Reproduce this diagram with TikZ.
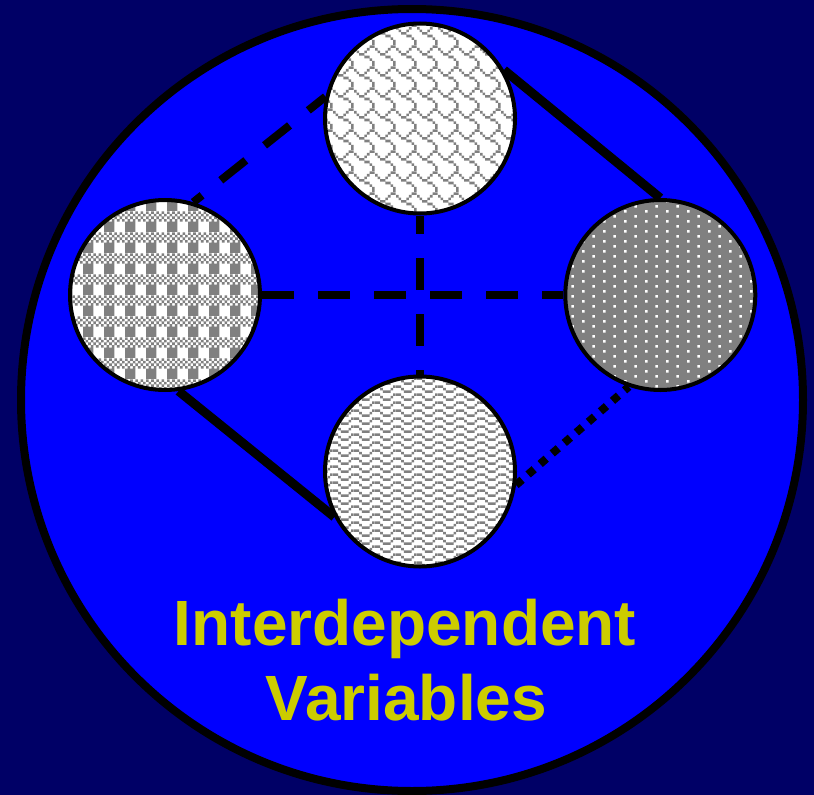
\documentclass[tikz,border=0pt]{standalone}
\usepackage{tikz}
\usepackage{fontspec}
\setmainfont{Liberation Sans}
\usetikzlibrary{patterns}
\definecolor{navy}{HTML}{000066}
\definecolor{discblue}{HTML}{0000FF}
\definecolor{patgray}{HTML}{808080}
\definecolor{titleyellow}{HTML}{CCCC00}
\pgfdeclarelayer{back}
\pgfdeclarelayer{links}
\pgfsetlayers{back,links,main}
\newcommand\bitsq[2]{\pgfpathrectangle{\pgfpoint{#1*2.6pt}{#2*2.6pt}}{\pgfpoint{2.6pt}{2.6pt}}}
% shingle pattern (8x8 bitmap)
\pgfdeclarepatternformonly{shinglepat}{\pgfpointorigin}{\pgfpoint{20.8pt}{20.8pt}}{\pgfpoint{20.8pt}{20.8pt}}{%
  \bitsq{6}{7}\bitsq{7}{7}%
  \bitsq{0}{6}\bitsq{5}{6}%
  \bitsq{1}{5}\bitsq{4}{5}%
  \bitsq{2}{4}\bitsq{3}{4}%
  \bitsq{4}{3}\bitsq{5}{3}%
  \bitsq{6}{2}%
  \bitsq{7}{1}%
  \bitsq{7}{0}%
  \pgfusepath{fill}}
% plaid pattern
\pgfdeclarepatternformonly{plaidpat}{\pgfpointorigin}{\pgfpoint{20.8pt}{20.8pt}}{\pgfpoint{20.8pt}{20.8pt}}{%
  \bitsq{0}{7}\bitsq{2}{7}\bitsq{4}{7}\bitsq{6}{7}%
  \bitsq{1}{6}\bitsq{3}{6}\bitsq{5}{6}\bitsq{7}{6}%
  \bitsq{0}{5}\bitsq{2}{5}\bitsq{4}{5}\bitsq{6}{5}%
  \bitsq{1}{4}\bitsq{3}{4}\bitsq{5}{4}\bitsq{7}{4}%
  \pgfpathrectangle{\pgfpointorigin}{\pgfpoint{10.4pt}{10.4pt}}%
  \pgfusepath{fill}}
% sparse dots pattern
\pgfdeclarepatternformonly{dotpat}{\pgfpointorigin}{\pgfpoint{20.8pt}{10.4pt}}{\pgfpoint{20.8pt}{10.4pt}}{%
  \bitsq{0}{3}\bitsq{4}{1}%
  \pgfusepath{fill}}
% zigzag pattern
\pgfdeclarepatternformonly{zigpat}{\pgfpointorigin}{\pgfpoint{20.8pt}{7.8pt}}{\pgfpoint{20.8pt}{7.8pt}}{%
  \bitsq{7}{2}\bitsq{0}{2}\bitsq{1}{2}%
  \bitsq{2}{1}\bitsq{6}{1}%
  \bitsq{3}{0}\bitsq{4}{0}\bitsq{5}{0}%
  \pgfusepath{fill}}
\begin{document}
\begin{tikzpicture}[x=1pt,y=-1pt,
  bubble/.style={circle, draw=black, line width=4pt, minimum size=190pt, inner sep=0pt},
  solidlink/.style={draw=black, line width=9pt},
  dashlink/.style={draw=black, line width=8pt, dash pattern=on 32pt off 24pt},
  dotlink/.style={draw=black, line width=8pt, dash pattern=on 8pt off 8pt},
  titletext/.style={text=titleyellow, font=\fontsize{64pt}{75pt}\selectfont\bfseries, inner sep=0pt, anchor=base}]
\useasboundingbox (0,0) rectangle (814,795);
\begin{pgfonlayer}{back}
\fill[navy] (0,0) rectangle (814,795);
\node[circle, draw=black, line width=8pt, fill=discblue, minimum size=782pt, inner sep=0pt] (disc) at (412,400) {};
\end{pgfonlayer}
\node[bubble, preaction={fill=white}, pattern=shinglepat, pattern color=patgray] (T) at (420,118.5) {};
\node[bubble, preaction={fill=white}, pattern=plaidpat, pattern color=patgray] (L) at (165,295) {};
\node[bubble, preaction={fill=patgray}, pattern=dotpat, pattern color=white] (R) at (660.3,295) {};
\node[bubble, preaction={fill=white}, pattern=zigpat, pattern color=patgray] (B) at (420,471.5) {};
\begin{pgfonlayer}{links}
\draw[solidlink] (T.30) -- (R.north);
\draw[solidlink] (L.278) -- (B.208);
\draw[dashlink, dash phase=10pt] (T.167) -- (L.73);
\draw[dashlink] (L.east) -- (R.west);
\draw[dashlink, dash phase=13.5pt] (T.south) -- (B.north);
\draw[dotlink] (B.352) -- (R.251);
\end{pgfonlayer}
\node[titletext] (t1) at (405,645) {Interdependent};
\node[titletext] (t2) at (406.5,720) {Variables};
\end{tikzpicture}
\end{document}
